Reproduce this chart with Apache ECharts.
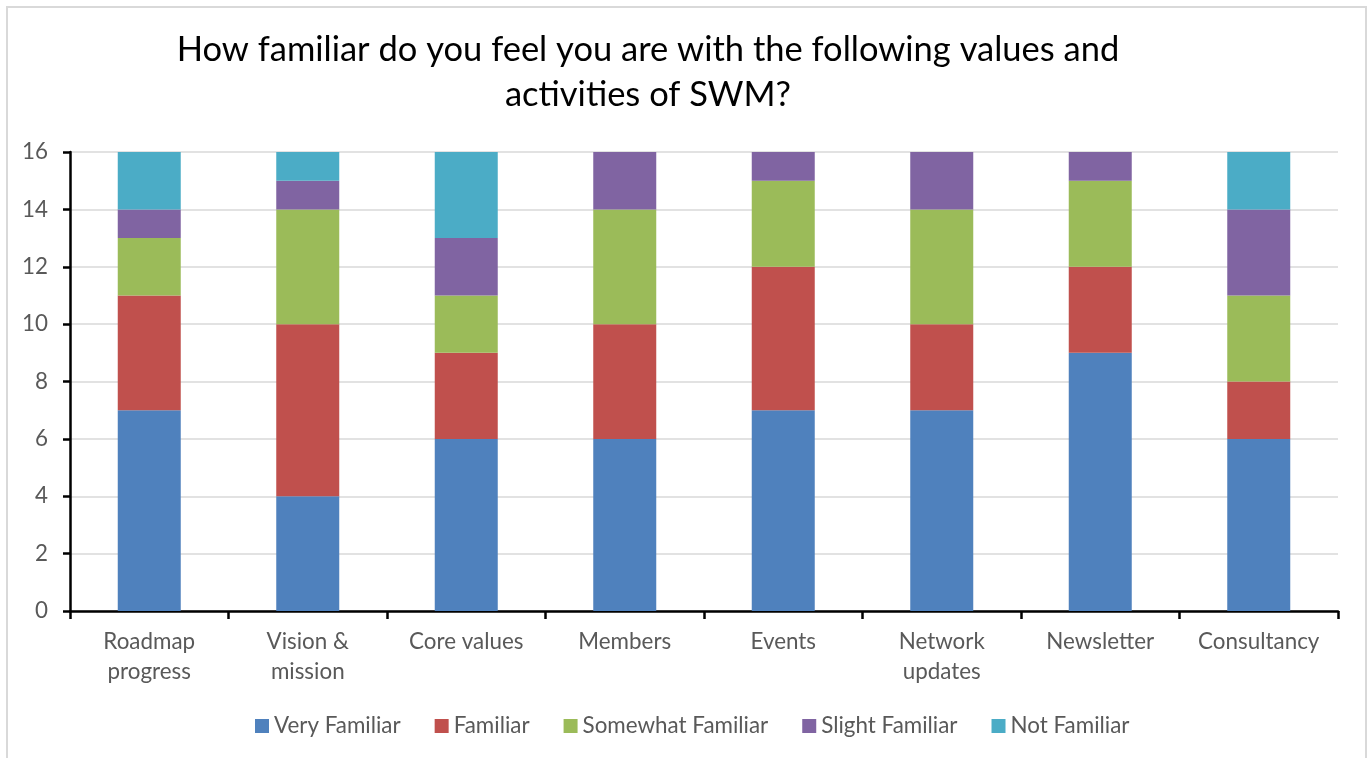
<!DOCTYPE html>
<html>
<head>
<meta charset="utf-8">
<script src="https://cdn.jsdelivr.net/npm/echarts@6/dist/echarts.min.js"></script>
<style>
  html, body { margin: 0; padding: 0; background: #fff; }
  #chart { width: 1372px; height: 758px; }
</style>
</head>
<body>
<div id="chart"></div>
<script>
// Survey topics (x axis)
const categories = ['Roadmap\nprogress', 'Vision &\nmission', 'Core values', 'Members', 'Events', 'Network\nupdates', 'Newsletter', 'Consultancy'];

// Response counts per familiarity level
const veryFamiliar     = [7, 4, 6, 6, 7, 7, 9, 6];
const familiar         = [4, 6, 3, 4, 5, 3, 3, 2];
const somewhatFamiliar = [2, 4, 2, 4, 3, 4, 3, 3];
const slightFamiliar   = [1, 1, 2, 2, 1, 2, 1, 3];
const notFamiliar      = [2, 1, 3, 0, 0, 0, 0, 2];

const seriesNames = ['Very Familiar', 'Familiar', 'Somewhat Familiar', 'Slight Familiar', 'Not Familiar'];
const seriesData = [veryFamiliar, familiar, somewhatFamiliar, slightFamiliar, notFamiliar];
const colors = ['#4F81BD', '#C0504D', '#9BBB59', '#8064A2', '#4BACC6'];

const chart = echarts.init(document.getElementById('chart'), null, { renderer: 'canvas' });

const font = 'Lato, "Open Sans", sans-serif';

chart.setOption({
  animation: false,
  color: colors,
  textStyle: { fontFamily: font },
  title: {
    text: 'How familiar do you feel you are with the following values and\nactivities of SWM?',
    left: 643,
    top: 22,
    textAlign: 'center',
    textStyle: { fontFamily: font, fontSize: 34.5, fontWeight: 'normal', color: '#000', lineHeight: 45 }
  },
  graphic: [{
    type: 'rect',
    shape: { x: 7, y: 7, width: 1359, height: 760 },
    style: { fill: 'none', stroke: '#d9d9d9', lineWidth: 2 },
    silent: true
  }],
  legend: {
    top: 710,
    left: 250,
    itemWidth: 14,
    itemHeight: 14,
    itemGap: 34,
    icon: 'rect',
    textStyle: { fontFamily: font, fontSize: 22.4, color: '#595959' },
    data: seriesNames
  },
  grid: { left: 70, right: 34, top: 152, bottom: 147, containLabel: false },
  xAxis: {
    type: 'category',
    data: categories,
    axisLine: { lineStyle: { color: '#000', width: 2.5 } },
    axisTick: { show: true, length: 8, lineStyle: { color: '#000', width: 2.5 }, alignWithLabel: false },
    axisLabel: { fontFamily: font, fontSize: 22.4, color: '#595959', margin: 16, lineHeight: 30 },
    splitLine: { show: false }
  },
  yAxis: {
    type: 'value',
    min: 0,
    max: 16,
    interval: 2,
    axisLine: { show: true, lineStyle: { color: '#000', width: 2.5 } },
    axisTick: { show: true, length: 7, lineStyle: { color: '#000', width: 2.5 } },
    axisLabel: { fontFamily: font, fontSize: 22.4, color: '#595959', margin: 22 },
    splitLine: { show: true, lineStyle: { color: '#d9d9d9', width: 1.5 } }
  },
  series: seriesNames.map((name, i) => ({
    name: name,
    type: 'bar',
    stack: 'total',
    barWidth: 63,
    data: seriesData[i],
    itemStyle: { color: colors[i] }
  }))
});
</script>
</body>
</html>
